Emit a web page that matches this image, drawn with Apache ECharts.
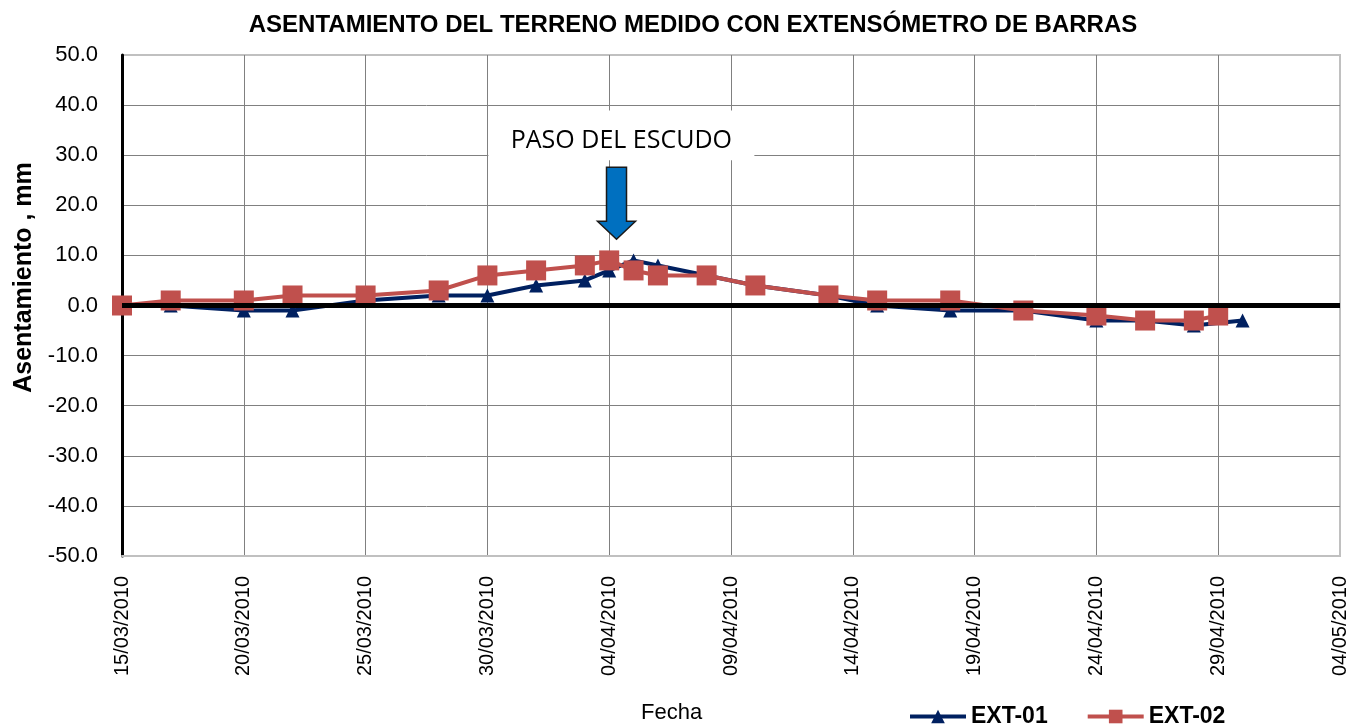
<!DOCTYPE html>
<html lang="es">
<head>
    <meta charset="UTF-8">
    <title>Asentamiento del terreno</title>
    <script type="text/javascript" src="https://cdn.jsdelivr.net/npm/echarts@6/dist/echarts.min.js"></script>
</head>
<body style="margin:0;background:#fff;">
<div id="myChart" style="width:1363px;height:725px;"></div>
<script type="text/javascript">
    // fechas de lectura y asentamiento (mm)
    var fechas01 = ['15/03/2010', '17/03/2010', '20/03/2010', '22/03/2010', '25/03/2010', '28/03/2010',
        '30/03/2010', '01/04/2010', '03/04/2010', '04/04/2010', '05/04/2010', '06/04/2010', '08/04/2010',
        '10/04/2010', '13/04/2010', '15/04/2010', '18/04/2010', '21/04/2010', '24/04/2010', '26/04/2010',
        '28/04/2010', '30/04/2010'];
    var ext01 = [0, 0, -1, -1, 1, 2, 2, 4, 5, 7, 9, 8, 6, 4, 2, 0, -1, -1, -3, -3, -4, -3];

    var fechas02 = ['15/03/2010', '17/03/2010', '20/03/2010', '22/03/2010', '25/03/2010', '28/03/2010',
        '30/03/2010', '01/04/2010', '03/04/2010', '04/04/2010', '05/04/2010', '06/04/2010', '08/04/2010',
        '10/04/2010', '13/04/2010', '15/04/2010', '18/04/2010', '21/04/2010', '24/04/2010', '26/04/2010',
        '28/04/2010', '29/04/2010'];
    var ext02 = [0, 1, 1, 2, 2, 3, 6, 7, 8, 9, 7, 6, 6, 4, 2, 1, 1, -1, -2, -3, -3, -2];

    var fechaInicio = '15/03/2010';
    var fechaFin = '04/05/2010';
    var pasoDias = 5;
    var fechaEscudo = '04/04/2010';

    var DIA = 86400000;
    function aMs(s) {
        var p = s.split('/');
        return Date.UTC(+p[2], +p[1] - 1, +p[0]);
    }
    var t0 = aMs(fechaInicio);
    function aDia(s) { return Math.round((aMs(s) - t0) / DIA); }
    function aTexto(d) {
        var f = new Date(t0 + d * DIA);
        var dd = ('0' + f.getUTCDate()).slice(-2);
        var mm = ('0' + (f.getUTCMonth() + 1)).slice(-2);
        return dd + '/' + mm + '/' + f.getUTCFullYear();
    }
    function pares(fechas, valores) {
        return fechas.map(function (f, i) { return [aDia(f), valores[i]]; });
    }

    var myChart = echarts.init(document.getElementById('myChart'));
    var fuente = '"Liberation Sans", Arial, sans-serif';

    var option = {
        animation: false,
        backgroundColor: '#fff',
        title: [{
            text: 'ASENTAMIENTO DEL TERRENO MEDIDO CON EXTENSÓMETRO DE BARRAS',
            left: 688, top: 8, textAlign: 'center',
            textStyle: {fontFamily: fuente, fontSize: 24, fontWeight: 'bold', color: '#000'}
        }, {
            text: 'Fecha',
            left: 636, top: 697,
            textStyle: {fontFamily: fuente, fontSize: 22, fontWeight: 'normal', color: '#000'}
        }],
        legend: {
            left: 903, top: 700,
            itemWidth: 56, itemHeight: 17, itemGap: 38,
            lineStyle: {width: 4},
            textStyle: {fontFamily: fuente, fontSize: 23, fontWeight: 'bold', color: '#000'},
            data: ['EXT-01', 'EXT-02']
        },
        grid: {
            left: 122, right: 23, top: 55, bottom: 169,
            show: true, borderColor: '#c0c0c0', borderWidth: 2
        },
        xAxis: {
            type: 'value',
            min: 0, max: aDia(fechaFin), interval: pasoDias,
            axisLine: {show: true, onZero: false, lineStyle: {color: '#c0c0c0', width: 2}},
            axisTick: {show: false},
            splitLine: {show: true, showMinLine: false, showMaxLine: false, lineStyle: {color: '#808080', width: 1}},
            axisLabel: {
                rotate: 90, margin: 20,
                fontFamily: fuente, fontSize: 20, color: '#000',
                formatter: function (v) { return aTexto(v); }
            }
        },
        yAxis: {
            type: 'value',
            min: -50, max: 50, interval: 10,
            name: 'Asentamiento , mm',
            nameLocation: 'middle', nameGap: 82,
            nameTextStyle: {fontFamily: fuente, fontSize: 25, fontWeight: 'bold', color: '#000', padding: [0, 0, 0, 56]},
            axisLine: {show: true, lineStyle: {color: '#000', width: 3}},
            axisTick: {show: false},
            splitLine: {show: true, showMaxLine: false, lineStyle: {color: '#808080', width: 1}},
            axisLabel: {
                margin: 24,
                fontFamily: fuente, fontSize: 22, color: '#000',
                formatter: function (v) { return v.toFixed(1); }
            }
        },
        series: [
            {
                name: 'EXT-01',
                type: 'line',
                data: pares(fechas01, ext01),
                symbol: 'triangle', symbolSize: 14,
                lineStyle: {color: '#002060', width: 4},
                itemStyle: {color: '#002060'},
                markLine: {
                    silent: true, symbol: 'none',
                    label: {show: false},
                    lineStyle: {color: '#000', width: 5, type: 'solid'},
                    data: [{yAxis: 0}]
                }
            },
            {
                name: 'EXT-02',
                type: 'line',
                data: pares(fechas02, ext02),
                symbol: 'rect', symbolSize: 20,
                lineStyle: {color: '#c0504d', width: 4},
                itemStyle: {color: '#c0504d'}
            }
        ]
    };
    myChart.setOption(option);

    // anotación: paso del escudo
    var dEsc = aDia(fechaEscudo);
    var pCaja0 = myChart.convertToPixel({gridIndex: 0}, [dEsc - 5, 38.9]);
    var pCaja1 = myChart.convertToPixel({gridIndex: 0}, [dEsc + 6, 29]);
    var pFlecha = myChart.convertToPixel({gridIndex: 0}, [dEsc + 0.3, 27.6]);
    myChart.setOption({
        graphic: [
            {
                type: 'rect', z: 50,
                shape: {x: pCaja0[0] + 1, y: pCaja0[1], width: pCaja1[0] - pCaja0[0] - 2, height: pCaja1[1] - pCaja0[1]},
                style: {fill: '#fff'}
            },
            {
                type: 'text', z: 51,
                x: (pCaja0[0] + pCaja1[0]) / 2, y: (pCaja0[1] + pCaja1[1]) / 2 + 5,
                style: {
                    text: 'PASO DEL ESCUDO', fill: '#000',
                    font: '25px "Open Sans", sans-serif',
                    align: 'center', verticalAlign: 'middle'
                }
            },
            {
                type: 'polygon', z: 51,
                x: pFlecha[0] - 19, y: pFlecha[1],
                shape: {points: [[9, 0], [29, 0], [29, 54], [38, 54], [19, 72], [0, 54], [9, 54]]},
                style: {fill: '#0070c0', stroke: '#1a1a1a', lineWidth: 1.5}
            }
        ]
    });
</script>
</body>
</html>
